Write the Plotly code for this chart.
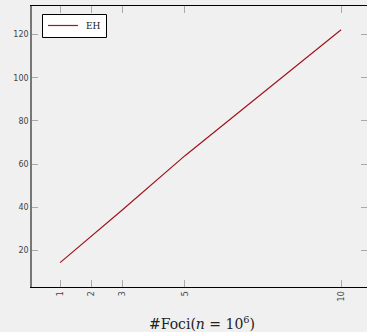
import plotly.graph_objects as go

# Number of foci (millions of points, n = 10^6) and the measured values
foci = [1, 2, 3, 5, 10]
eh_values = [14.3, 26.5, 38.8, 63.9, 122.3]
x_ticks = [1, 2, 3, 5, 10]
y_ticks = [20, 40, 60, 80, 100, 120]

x_range = [0.1, 10.99]
y_range = [3, 133.3]

bg = "#f0f0f0"
tick_font = dict(family="DejaVu Sans", size=8, color="#444444")

W, H = 372, 332
L, T, B = 32, 6, 45
plot_w = W - L
plot_h = H - T - B


def px(xp):
    """Pixel column -> paper x."""
    return (xp - L) / plot_w


def py(yp):
    """Pixel row -> paper y."""
    return (H - B - yp) / plot_h


fig = go.Figure()
fig.add_trace(go.Scatter(
    x=foci, y=eh_values, mode="lines", name="EH",
    line=dict(color="#a01520", width=1.2),
    showlegend=False,
))
# Carrier for the top and right-hand tick marks
fig.add_trace(go.Scatter(x=[None], y=[None], xaxis="x2", yaxis="y2",
                         showlegend=False))

# Legend box, sample line and label
fig.add_shape(type="rect", xref="paper", yref="paper",
              x0=px(42.5), x1=px(106.5), y0=py(37.5), y1=py(14.5),
              fillcolor="white", line=dict(color="black", width=1))
fig.add_shape(type="line", xref="paper", yref="paper",
              x0=px(48), x1=px(78), y0=py(25.5), y1=py(25.5),
              line=dict(color="#a01520", width=1.2))
fig.add_annotation(xref="paper", yref="paper", x=px(84), y=py(25.5),
                   xanchor="left", yanchor="middle", showarrow=False,
                   text="EH", font=dict(family="DejaVu Serif", size=9,
                                        color="#222222"))

fig.update_layout(
    width=W, height=H,
    margin=dict(l=L, r=0, t=T, b=B),
    paper_bgcolor=bg, plot_bgcolor=bg,
    showlegend=False,
    xaxis=dict(
        range=x_range, tickvals=x_ticks, ticktext=[str(v) for v in x_ticks],
        tickangle=-90, tickfont=tick_font,
        ticks="inside", ticklen=7, tickcolor="#aaaaaa", tickwidth=1,
        showline=True, linecolor="black", linewidth=1,
        showgrid=False, zeroline=False,
        title=dict(text="#Foci(<i>n</i> = 10<sup>6</sup>)",
                   font=dict(family="DejaVu Serif", size=14, color="#222222"),
                   standoff=18),
    ),
    xaxis2=dict(
        range=x_range, tickvals=x_ticks, overlaying="x", side="top",
        anchor="y", showticklabels=False,
        ticks="inside", ticklen=7, tickcolor="#aaaaaa", tickwidth=1,
        showline=True, linecolor="black", linewidth=1,
        showgrid=False, zeroline=False,
    ),
    yaxis=dict(
        range=y_range, tickvals=y_ticks, tickfont=tick_font,
        ticks="inside", ticklen=6, tickcolor="#aaaaaa", tickwidth=1,
        showline=True, linecolor="#777777", linewidth=1.5,
        showgrid=False, zeroline=False,
    ),
    yaxis2=dict(
        range=y_range, tickvals=y_ticks, overlaying="y", side="right",
        anchor="free", position=px(367),
        showticklabels=False, ticks="inside", ticklen=6,
        tickcolor="#aaaaaa", tickwidth=1,
        showline=False, showgrid=False, zeroline=False,
    ),
)

# Keep the page from scrolling; the figure is clipped at the window edge
page_css = ("document.documentElement.style.overflow='hidden';"
            "document.body.style.overflow='hidden';"
            "document.body.style.margin='0';"
            "document.body.style.background='" + bg + "';")

fig.write_html("out.html", post_script=page_css)
